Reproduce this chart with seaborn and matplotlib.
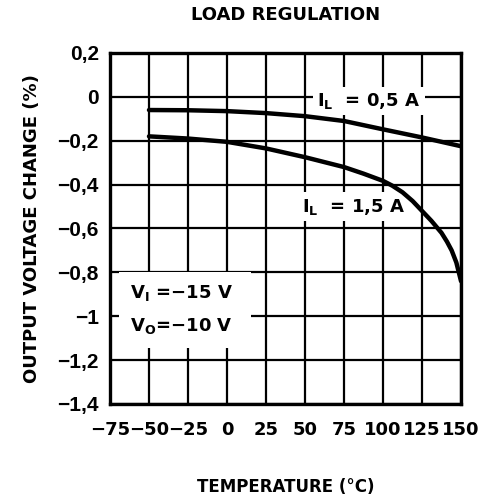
import seaborn as sns
import matplotlib.pyplot as plt
import pandas as pd

sns.set_theme(style="white")
plt.rcParams['font.family'] = ['DejaVu Sans']
plt.rcParams['font.weight'] = 'bold'
plt.rcParams['mathtext.default'] = 'regular'
plt.rcParams['text.color'] = 'black'
plt.rcParams['axes.labelcolor'] = 'black'
plt.rcParams['xtick.color'] = 'black'
plt.rcParams['ytick.color'] = 'black'

# temperature (C) vs output voltage change (%)
temp_05 = [-50, -25, 0, 25, 50, 75, 100, 125, 150]
dv_05 = [-0.06, -0.061, -0.065, -0.074, -0.088, -0.11, -0.148, -0.185, -0.225]

temp_15 = [-50, -25, 0, 25, 50, 75, 87.5, 100, 106, 112.5, 119, 125, 131, 137.5, 141, 144, 147, 150]
dv_15 = [-0.18, -0.19, -0.205, -0.235, -0.275, -0.32, -0.35, -0.383, -0.405, -0.435,
         -0.475, -0.52, -0.565, -0.62, -0.66, -0.70, -0.755, -0.84]

x_ticks = [-75, -50, -25, 0, 25, 50, 75, 100, 125, 150]
x_labels = ["\u221275", "\u221250", "\u221225", "0", "25", "50", "75", "100", "125", "150"]
y_ticks = [0.2, 0, -0.2, -0.4, -0.6, -0.8, -1.0, -1.2, -1.4]
y_labels = ["0,2", "0", "\u22120,2", "\u22120,4", "\u22120,6", "\u22120,8", "\u22121", "\u22121,2", "\u22121,4"]

df_05 = pd.DataFrame({"temp": temp_05, "dv": dv_05})
df_15 = pd.DataFrame({"temp": temp_15, "dv": dv_15})

fig = plt.figure(figsize=(4.86, 4.99), dpi=100)
ax = fig.add_axes([0.2263, 0.1904, 0.7223, 0.7034])

sns.lineplot(data=df_05, x="temp", y="dv", ax=ax, color="black", lw=3.2, zorder=5)
sns.lineplot(data=df_15, x="temp", y="dv", ax=ax, color="black", lw=3.2, zorder=5)

ax.set_xlim(-75, 150)
ax.set_ylim(-1.4, 0.2)
ax.set_xticks(x_ticks)
ax.set_xticklabels(x_labels, fontsize=13, fontweight='bold')
ax.set_yticks(y_ticks)
ax.set_yticklabels(y_labels, fontsize=15, fontweight='bold', family='Liberation Sans')
ax.tick_params(length=0)
ax.tick_params(axis='x', pad=12)
ax.tick_params(axis='y', pad=8)
ax.grid(True, color="black", lw=1.6)
ax.set_axisbelow(True)
for s in ax.spines.values():
    s.set_color("black")
    s.set_linewidth(2.4)

ax.set_title("LOAD REGULATION", fontsize=13, fontweight='bold', pad=24)
ax.set_xlabel("TEMPERATURE (\u00b0C)", fontsize=12, fontweight='bold', labelpad=28)
ax.set_ylabel("OUTPUT VOLTAGE CHANGE (%)", fontsize=13, fontweight='bold', labelpad=12)

box = dict(facecolor="white", edgecolor="none", pad=3)
ax.text(58, -0.02, "I$_L$  = 0,5 A", fontsize=13, fontweight='bold', va='center', ha='left',
        bbox=box, zorder=2)
ax.text(48, -0.5, "I$_L$  = 1,5 A", fontsize=13, fontweight='bold', va='center', ha='left',
        bbox=box, zorder=2)
ax.text(-62, -0.97, "V$_I$ =\u221215 V  \n\nV$_O$=\u221210 V  ", fontsize=13, fontweight='bold',
        va='center', ha='left', linespacing=0.85, clip_on=True,
        bbox=dict(facecolor="white", edgecolor="none", pad=8), zorder=2)

fig.savefig("out.png", dpi=100)
